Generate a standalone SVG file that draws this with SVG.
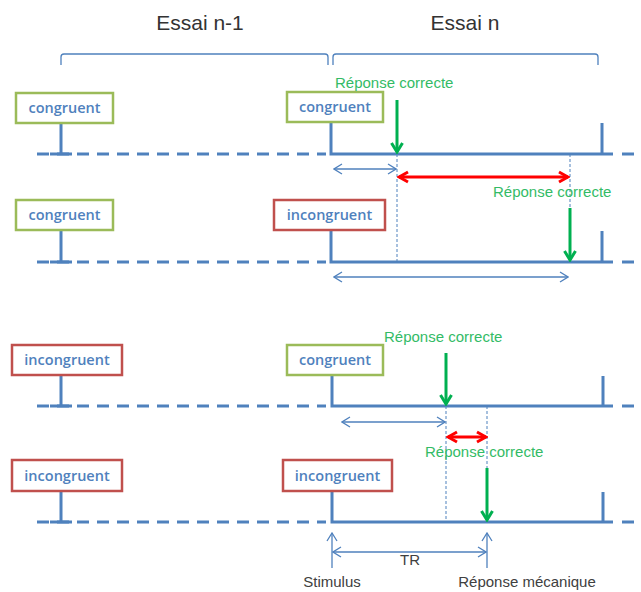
<svg xmlns="http://www.w3.org/2000/svg" width="641" height="592" viewBox="0 0 641 592">
<style>
.title{font-family:"Liberation Sans",Arial,sans-serif;font-size:21px;fill:#333333}
.lbl{font-family:"Open Sans","Liberation Sans",Arial,sans-serif;font-size:14.5px;font-weight:600;fill:#4F81BD;text-anchor:middle}
.green{font-family:"Liberation Sans",Arial,sans-serif;font-size:15px;fill:#33BB66}
.dark{font-family:"Liberation Sans",Arial,sans-serif;font-size:15px;fill:#404040}
.gbox{fill:#fff;stroke:#9BBB59;stroke-width:2.5}
.rbox{fill:#fff;stroke:#C0504D;stroke-width:2.5}
.main{stroke:#4F81BD;stroke-width:3;fill:none}
.dash{stroke:#4F81BD;stroke-width:3;fill:none;stroke-dasharray:12 8}
.bracket{stroke:#4F81BD;stroke-width:1.3;fill:none}
.thin{stroke:#4F81BD;stroke-width:1.3;fill:none;marker-start:url(#ba);marker-end:url(#ba)}
.thin1{stroke:#4F81BD;stroke-width:1.3;fill:none;marker-end:url(#ba)}
.vdash{stroke:#4F81BD;stroke-width:1;fill:none;stroke-dasharray:3 2}
.garrow{stroke:#00B050;stroke-width:3;fill:none;marker-end:url(#ga)}
.rarrow{stroke:#FF0000;stroke-width:3;fill:none;marker-start:url(#ra);marker-end:url(#ra)}
</style>
<defs>
<marker id="ba" markerUnits="userSpaceOnUse" viewBox="0 0 10 12" refX="9" refY="6" markerWidth="10" markerHeight="12" orient="auto-start-reverse">
<path d="M1,1 L9,6 L1,11" fill="none" stroke="#4F81BD" stroke-width="1.3"/>
</marker>
<marker id="ga" markerUnits="userSpaceOnUse" viewBox="0 0 12 14" refX="10" refY="7" markerWidth="12" markerHeight="14" orient="auto">
<path d="M1,1.5 L10,7 L1,12.5" fill="none" stroke="#00B050" stroke-width="3"/>
</marker>
<marker id="ra" markerUnits="userSpaceOnUse" viewBox="0 0 12 14" refX="10" refY="7" markerWidth="12" markerHeight="14" orient="auto-start-reverse">
<path d="M1,2 L10,7 L1,12" fill="none" stroke="#FF0000" stroke-width="3"/>
</marker>
</defs>

<g id="titles">
<text class="title" x="200" y="30" text-anchor="middle">Essai n-1</text>
<text class="title" x="465" y="30" text-anchor="middle">Essai n</text>
<path class="bracket" d="M61,65 V57 Q61,54 64,54 H325 Q328,54 328,57 V65"/>
<path class="bracket" d="M333,65 V57 Q333,54 336,54 H595 Q598,54 598,57 V65"/>
</g>

<g id="connectors">
<path class="dash" d="M37,154 H326 M622,154 H641"/>
<path class="dash" d="M37,262 H326 M622,262 H641"/>
<path class="dash" d="M37,406 H326 M622,406 H641"/>
<path class="dash" d="M37,522 H326 M622,522 H641"/>
<path class="main" d="M50,154 H72 M61,123 V154 M331,122 V154 H613 M602,123 V154"/>
<path class="main" d="M50,262 H72 M61,230 V262 M331,230 V262 H613 M602,231 V262"/>
<path class="main" d="M50,406 H72 M61,375 V406 M332,375 V406 H613 M603,376 V406"/>
<path class="main" d="M50,522 H72 M61,491 V522 M332,491 V522 H613 M603,492 V522"/>
<path class="vdash" d="M397,154 V262 M570,154 V208"/>
<path class="vdash" d="M446,406 V522 M487,406 V468"/>
<path class="thin" d="M334,169 H396"/>
<path class="thin" d="M334,277 H568"/>
<path class="thin" d="M342,422 H445"/>
<path class="thin" d="M333,552 H486"/>
<path class="thin1" d="M332,568 V533"/>
<path class="thin1" d="M487,568 V533"/>
<path class="rarrow" d="M399,177 H568"/>
<path class="rarrow" d="M448,437 H486"/>
<path class="garrow" d="M397,100 V152"/>
<path class="garrow" d="M570,208 V260"/>
<path class="garrow" d="M446,353 V404"/>
<path class="garrow" d="M487,468 V520"/>
</g>

<g id="n1a"><rect class="gbox" x="16" y="93" width="97" height="30"/><text class="lbl" x="64.5" y="113">congruent</text></g>
<g id="n1b"><rect class="gbox" x="287" y="92" width="96" height="30"/><text class="lbl" x="335" y="112">congruent</text></g>
<g id="n2a"><rect class="gbox" x="16" y="200" width="97" height="30"/><text class="lbl" x="64.5" y="220">congruent</text></g>
<g id="n2b"><rect class="rbox" x="274" y="200" width="111" height="30"/><text class="lbl" x="329.5" y="220">incongruent</text></g>
<g id="n3a"><rect class="rbox" x="12" y="345" width="110" height="30"/><text class="lbl" x="67" y="365">incongruent</text></g>
<g id="n3b"><rect class="gbox" x="287" y="345" width="96" height="30"/><text class="lbl" x="335" y="365">congruent</text></g>
<g id="n4a"><rect class="rbox" x="12" y="460" width="110" height="31"/><text class="lbl" x="67" y="480.5">incongruent</text></g>
<g id="n4b"><rect class="rbox" x="283" y="460" width="109" height="31"/><text class="lbl" x="337.5" y="480.5">incongruent</text></g>

<g id="labels">
<text class="green" x="335" y="88">Réponse correcte</text>
<text class="green" x="493" y="197">Réponse correcte</text>
<text class="green" x="384" y="342">Réponse correcte</text>
<text class="green" x="425" y="457">Réponse correcte</text>
<text class="dark" x="410" y="565" text-anchor="middle">TR</text>
<text class="dark" x="332" y="587" text-anchor="middle">Stimulus</text>
<text class="dark" x="527" y="587" text-anchor="middle">Réponse mécanique</text>
</g>
</svg>
